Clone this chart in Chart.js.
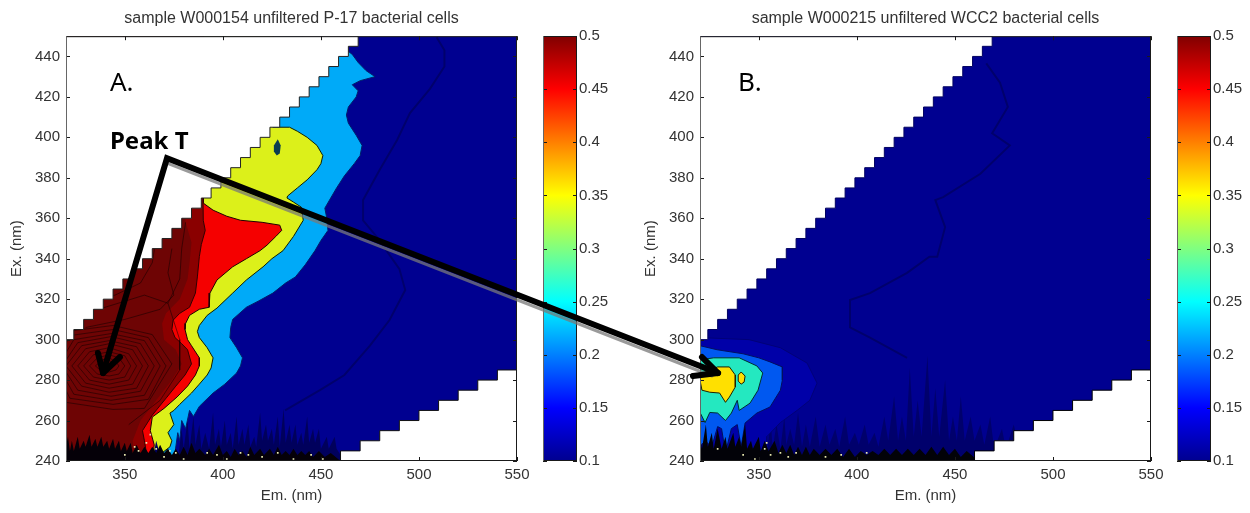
<!DOCTYPE html>
<html>
<head>
<meta charset="utf-8">
<script src="https://cdn.jsdelivr.net/npm/chart.js@4"></script>
<style>
  body { margin: 0; background: #fff; }
  #page { position: relative; width: 1250px; height: 513px; overflow: hidden; }
  canvas { position: absolute; top: 0; }
</style>
</head>
<body>
<div id="page">
  <canvas id="panelA" width="530" height="513" style="left:0"></canvas>
  <canvas id="barA" width="90" height="513" style="left:530px"></canvas>
  <canvas id="panelB" width="530" height="513" style="left:634px"></canvas>
  <canvas id="barB" width="90" height="513" style="left:1164px"></canvas>
  <canvas id="overlay" width="1250" height="513" style="left:0"></canvas>
</div>
<script>
// axis ticks
const emTicks = [350, 400, 450, 500, 550];
const exTicks = [240, 260, 280, 300, 320, 340, 360, 380, 400, 420, 440];
const barTicks = [0.1, 0.15, 0.2, 0.25, 0.3, 0.35, 0.4, 0.45, 0.5];

// colour bar range
const barRange = [0.1, 0.5];
const jetStops = ['#00008f', '#0000ff', '#0080ff', '#00ffff', '#80ff80', '#ffff00', '#ff8000', '#ff0000', '#800000'];

// edge of the measured area (em. at each ex. row), same for both samples
const stairEm = [324, 329, 334, 339, 344, 349, 354, 359, 364, 369, 374, 379, 384, 389, 394,
  399, 404, 409, 414, 419, 424, 429, 434, 439, 444, 449, 454, 459, 464, 469];
const stairEx = [300, 305, 310, 315, 320, 325, 330, 335, 340, 345, 350, 355, 360, 365, 370,
  375, 380, 385, 390, 395, 400, 405, 410, 415, 420, 425, 430, 435, 440, 445];
const lowerEm = [460, 470, 480, 490, 500, 510, 520, 530, 540];
const lowerEx = [245, 250, 255, 260, 265, 270, 275, 280, 285];

// sample A contours, [em, ex]
const fullArea = [[320, 240], [550, 240], [550, 450], [320, 450]];
const cyanA = [[320, 450], [440, 450], [462, 444], [466, 441], [469, 437], [473, 433], [477.6, 430], [470, 428], [466, 426], [469, 423],
  [468, 420], [464, 415], [463, 411], [464, 407], [468, 401], [471, 396], [470, 391], [467, 387], [462, 381], [458, 375], [455, 370],
  [452, 365], [453, 360], [453.6, 354], [450, 349], [447, 344], [442, 337], [437, 331], [432, 328], [425.5, 323], [418, 319], [412, 316],
  [405, 310], [404, 306], [403.6, 301], [407, 296], [410, 291], [409, 287], [407, 283.5], [401, 278], [395, 273.6], [388, 267],
  [385, 262], [383, 265], [381, 256], [379, 260], [378, 250], [377, 254], [375, 240], [320, 240]];
const yellowA = [[320, 450], [425.6, 450], [425.6, 405], [434, 405], [438, 403], [443, 400], [448, 396], [451, 391], [450, 387], [448, 384],
  [443, 379], [438, 375], [433, 371], [432.7, 370], [436, 368], [440, 365.5], [441, 359], [436, 351], [430.7, 344], [425, 340], [420.5, 336],
  [412, 329.5], [405, 323], [397, 315.6], [392, 312], [388, 307], [387, 304], [388, 301], [392, 296], [395, 291], [394, 286], [392, 282.5],
  [388, 278], [384, 273.6], [378, 268], [375, 265], [373, 263.7], [375, 258], [372, 254], [374, 250], [373, 247], [369, 244], [368, 240], [320, 240]];
const holeA = [[426, 396], [428, 399], [429.5, 396], [429, 392], [427.5, 391], [426, 393], [426, 396]];
const redA = [[320, 450], [390, 450], [390, 367.5], [395, 364], [402, 361], [409, 359], [420, 358], [429, 356.6], [430, 354], [427, 351],
  [422.5, 346.7], [419, 344], [412, 340], [405, 336], [397, 329.5], [393.4, 323], [393, 316], [388, 315], [383, 312], [381, 308], [380.7, 305],
  [382, 300], [384, 297], [388, 291], [388, 287], [386, 282.5], [382, 277], [376.6, 271.6], [370, 266], [364, 261.7], [363, 255],
  [365, 248], [364, 240], [320, 240]];
const maroonA = [[320, 450], [389, 450], [390, 359], [391, 354], [389, 347], [388, 341], [387, 331], [386, 323], [383, 316], [378, 313],
  [374.6, 309.6], [374, 305], [375.6, 301], [379, 298], [382, 295], [384, 288], [380.7, 282.5], [376, 277], [371.5, 271.6], [364, 262.7],
  [359, 255], [360, 250], [361, 244], [361, 240], [320, 240]];
const deepA = [[320, 450], [378, 450], [381, 358], [384, 348], [383, 338], [382, 330], [378, 320], [371, 313], [369, 308], [370, 300], [376, 295],
  [379, 288], [374, 280], [366, 270], [358, 260], [354, 250], [355, 240], [320, 240]];
const ringsA = [
  [[344, 288], [342, 290], [339, 290], [337, 288], [339, 286], [342, 286], [344, 288]],
  [[347, 287], [345.5, 289], [342, 291], [338.5, 290], [335, 287], [338.5, 284], [342, 284], [345.5, 285], [347, 287]],
  [[350, 287], [347, 291], [342, 292.5], [336, 291], [332, 287], [336, 283], [342, 282], [347, 283], [350, 287]],
  [[353, 287], [350, 292], [342, 294], [334, 292.5], [329, 287], [334, 281.5], [342, 280], [350, 281.5], [353, 287]],
  [[356, 287], [352, 293], [342, 296], [332, 294], [326, 287], [332, 280], [342, 278], [352, 280], [356, 287]],
  [[359, 287], [354, 295], [342, 298], [330, 295.5], [323, 287], [330, 278.5], [342, 276], [354, 278], [359, 287]],
  [[362, 287], [356, 296.5], [342, 299.5], [328, 297], [320, 287], [328, 277], [342, 274], [356, 276], [362, 287]],
  [[365, 287], [358, 298], [343, 301.5], [326, 298.5], [318, 287], [326, 275], [343, 272], [358, 274.5], [365, 287]],
  [[368, 287], [360, 299.5], [343, 303], [324, 300], [316, 287], [324, 273], [343, 270], [360, 272.5], [368, 287]],
  [[371, 287], [362, 301], [344, 305], [322, 302], [314, 287], [322, 271], [344, 268], [362, 270.5], [371, 287]],
  [[374, 288], [364, 302.5], [344, 307], [320, 304], [312, 287], [320, 269], [344, 265.5], [360, 266], [374, 288]],
  [[320, 312], [340, 316], [360, 322], [372, 318], [378, 300], [378, 285], [368, 270], [352, 258]],
  [[374, 345], [372, 333], [375, 322], [368, 315], [350, 310], [330, 306]],
  [[381, 358], [379, 345], [378, 330], [372, 318]],
  [[366, 350], [364, 338], [358, 328], [345, 322], [330, 320]]
];
const faintA = [[509, 449.5], [513, 443], [513, 435], [505.6, 424], [495.4, 412], [488.8, 398.6], [480, 384], [471.5, 369], [471.5, 359], [478.6, 350.7],
  [490, 335], [493, 324.5], [485, 309.7], [475, 297], [462, 282.5], [449.5, 275], [431.7, 265]];
const streaksA = [[364, 240], [366, 250], [368, 243], [377, 240], [379, 256], [380, 246], [382, 260], [383, 246], [385, 262], [386, 248], [388, 258], [389, 246], [391, 254], [393, 246],
  [395, 264], [396, 248], [398, 256], [399, 247], [401, 260], [402, 248], [404, 254], [405, 246], [407, 262], [408, 248], [410, 256], [411, 248], [413, 258], [414, 247], [416, 252],
  [417, 247], [419, 264], [420, 250], [422, 258], [423, 250], [425, 256], [426, 248], [428, 262], [429, 247], [431, 266], [432, 249], [434, 258], [435, 249], [437, 258], [438, 248],
  [440, 254], [441, 248], [443, 262], [444, 249], [446, 256], [447, 249], [449, 256], [450, 246], [453, 252], [454, 246], [457, 252], [458, 246], [462, 240]];
const blackA = [[320, 240], [320, 247], [321, 252], [322, 245], [323, 250], [324, 245], [326, 252], [327, 246], [329, 250], [330, 247], [332, 253], [333, 247], [335, 251], [336, 247], [338, 252],
  [339, 247], [341, 250], [342, 246], [344, 251], [345, 246], [347, 250], [348, 245], [350, 249], [351, 245], [353, 249], [354, 244], [356, 248], [358, 244], [360, 247], [362, 244], [364, 247],
  [366, 244], [368, 248], [370, 244], [372, 246], [374, 243], [376, 246], [378, 243], [380, 247], [382, 243], [384, 249], [386, 244], [388, 246], [391, 243], [393, 246], [395, 243],
  [398, 248], [400, 243], [402, 245], [404, 242], [406, 246], [408, 243], [410, 245], [412, 242], [414, 247], [416, 243], [419, 246], [421, 243], [424, 246], [426, 243], [428, 247], [430, 243],
  [432, 245], [434, 243], [436, 246], [438, 243], [440, 245], [442, 243], [444, 245], [446, 242], [449, 245], [452, 242], [455, 244], [460, 240]];
const specksA = [[350, 243], [355, 247], [357, 245], [361, 249], [363, 253], [366, 246], [370, 242], [373, 245], [376, 244], [380, 241], [392, 244], [397, 243], [402, 241],
  [409, 244], [413, 243], [420, 242], [428, 244], [436, 241], [445, 243], [451, 241]];

// sample B contours
const navyB = [[320, 240], [320, 301], [345, 300], [361, 296], [374.6, 288.4], [379.7, 278.5], [376, 270], [369.5, 265], [361, 259], [354, 252], [354, 240]];
const blueB = [[320, 297], [328.7, 295], [342, 293], [350, 291], [355.7, 289], [362, 286.5], [362, 280], [361, 275], [355.7, 266.7], [349, 263.7], [343, 258.8],
  [341, 247], [339, 258], [336, 256], [333, 244], [331, 256], [329, 257], [326, 247], [322.5, 250], [320, 247]];
const tealB = [[320, 290], [327, 291], [340, 291], [349, 287], [352, 283.5], [349.6, 275], [345.5, 268.6], [340, 265], [339, 270], [336, 263.7], [333, 260],
  [329, 263.7], [325, 264], [322.6, 259], [320, 264]];
const yellowB = [[320, 283], [325, 285], [329, 286.5], [335, 286.5], [338, 282.5], [338, 276.6], [335, 271.6], [333, 269], [330, 273.6], [325, 274], [321, 275], [320, 280]];
const islandB = [[341, 284], [343, 282], [342.5, 279], [341, 278], [339.5, 279.5], [339.5, 282.5], [341, 284]];
const faintB = [[466, 436.6], [473, 427], [477, 415], [469, 402], [478, 396], [463, 382], [444, 370.4], [440, 369], [445, 355.6], [441, 341], [437, 341],
  [425.6, 333], [406.7, 323], [396.5, 319.6], [396.5, 306], [406.7, 301], [425.6, 291]];
const streaksB = [[354, 240], [356, 262], [357, 246], [359, 258], [361, 246], [363, 262], [364, 248], [366, 256], [368, 248], [370, 264], [372, 247], [374, 258], [376, 247], [379, 262], [381, 247],
  [384, 258], [386, 248], [389, 256], [391, 247], [394, 262], [396, 248], [399, 254], [401, 248], [404, 258], [406, 248], [409, 254], [411, 247], [414, 262], [416, 250], [419, 272], [421, 250],
  [423, 262], [425, 250], [427, 286], [429, 252], [431, 270], [433, 252], [436, 292], [438, 252], [440, 276], [442, 252], [445, 280], [447, 250], [449, 262], [451, 250], [453, 272], [455, 250],
  [458, 262], [460, 250], [463, 258], [465, 248], [468, 262], [470, 246], [474, 256], [476, 246], [480, 258], [483, 246], [490, 240]];
const blackB = [[320, 240], [320, 252], [321, 246], [323, 258], [324, 247], [326, 254], [327, 246], [329, 256], [331, 246], [333, 252], [334, 246], [337, 254], [338, 247], [340, 252], [341, 247],
  [343, 258], [344, 246], [346, 250], [347, 246], [350, 252], [351, 245], [353, 250], [355, 245], [358, 250], [360, 244], [362, 248], [364, 244], [366, 248], [368, 243], [370, 247], [372, 243],
  [374, 247], [376, 243], [378, 246], [381, 243], [384, 246], [387, 243], [390, 246], [393, 242], [396, 246], [399, 242], [402, 245], [405, 243], [408, 245], [411, 243], [414, 246], [417, 243],
  [420, 246], [423, 243], [426, 246], [429, 243], [432, 246], [435, 243], [438, 247], [441, 243], [444, 247], [447, 243], [450, 246], [453, 242], [456, 245], [462, 240]];
const specksB = [[329, 246], [342, 243], [348, 241], [353, 246], [354, 249], [356, 243], [361, 244], [365, 242], [369, 244], [384, 242], [392, 243], [405, 244]];

const palette = { navy: '#000090', cyan: '#00aaf8', yellow: '#dcf01a', red: '#f50000', maroon: '#8a0000', deep: '#6e0404' };

const toPoints = arr => arr.map(p => ({ x: p[0], y: p[1] }));

function polygon(arr, fill, line) {
  return { data: toPoints(arr), showLine: true, pointRadius: 0, borderWidth: line ? 1 : 0, borderColor: line || 'rgba(0,0,0,0)',
    backgroundColor: fill, fill: 'shape', tension: 0 };
}
function contour(arr, color, width) {
  return { data: toPoints(arr), showLine: true, pointRadius: 0, borderWidth: width, borderColor: color, fill: false, tension: 0 };
}
function specks(arr, color) {
  return { data: toPoints(arr), showLine: false, pointStyle: 'rect', pointRadius: 1.2, borderWidth: 0, backgroundColor: color };
}

const upperMask = [[320, 300], ...stairEm.flatMap((em, i) => [[em, stairEx[i]], [em, stairEx[i] + 5]]), [320, 450]];
const lowerMask = [[460, 240], ...lowerEm.flatMap((em, i) => [[em, lowerEx[i]], [em + 10, lowerEx[i]]]), [550, 240]];

// draws the box and the inward MATLAB style ticks
const boxTicks = {
  id: 'boxTicks',
  afterDatasetsDraw(chart) {
    const { ctx, chartArea: a, scales } = chart;
    ctx.save();
    ctx.lineWidth = 1;
    ctx.strokeStyle = '#1a1a1a';
    ctx.beginPath();
    ctx.moveTo(a.left, a.top + 0.5); ctx.lineTo(a.right, a.top + 0.5);
    ctx.moveTo(a.right - 0.5, a.top); ctx.lineTo(a.right - 0.5, a.bottom);
    ctx.moveTo(a.left, a.bottom - 0.5); ctx.lineTo(a.right, a.bottom - 0.5);
    scales.y.ticks.forEach(t => {
      const py = Math.round(scales.y.getPixelForValue(t.value)) + 0.5;
      ctx.moveTo(a.left, py); ctx.lineTo(a.left + 4, py);
      ctx.moveTo(a.right, py); ctx.lineTo(a.right - 4, py);
    });
    if (scales.x.type === 'linear') {
      scales.x.ticks.forEach(t => {
        const px = Math.round(scales.x.getPixelForValue(t.value)) + 0.5;
        ctx.moveTo(px, a.top); ctx.lineTo(px, a.top + 4);
        ctx.moveTo(px, a.bottom); ctx.lineTo(px, a.bottom - 4);
      });
    }
    ctx.stroke();
    ctx.strokeStyle = '#666';
    ctx.beginPath();
    ctx.moveTo(a.left + 0.5, a.top); ctx.lineTo(a.left + 0.5, a.bottom);
    ctx.stroke();
    ctx.restore();
  }
};

const labelFont = { family: '"Liberation Sans"', size: 15 };

function makePanel(id, title, layers) {
  const datasets = layers.map((d, i) => Object.assign(d, { order: -i }));
  return new Chart(document.getElementById(id), {
    type: 'scatter',
    data: { datasets },
    plugins: [boxTicks],
    options: {
      responsive: false,
      animation: false,
      layout: { padding: { right: 13 }, autoPadding: false },
      plugins: {
        legend: { display: false },
        tooltip: { enabled: false },
        title: { display: true, text: title, color: '#333', fullSize: false, font: { family: '"Liberation Sans"', size: 16, weight: 'normal' },
          padding: { top: 9, bottom: 8 } }
      },
      scales: {
        x: {
          type: 'linear', min: 320, max: 550,
          afterBuildTicks: s => { s.ticks = emTicks.map(value => ({ value })); },
          afterFit: s => { s.height = 52; s.paddingLeft = 0; s.paddingRight = 0; },
          grid: { display: false, tickLength: 0 },
          border: { display: false },
          ticks: { color: '#333', font: labelFont, maxRotation: 0, padding: 5, autoSkip: false },
          title: { display: true, text: 'Em. (nm)', color: '#333', font: labelFont, padding: { top: 0, bottom: 8 } }
        },
        y: {
          min: 240, max: 450,
          afterBuildTicks: s => { s.ticks = exTicks.map(value => ({ value })); },
          afterFit: s => { s.width = 66; s.paddingTop = 0; s.paddingBottom = 0; },
          grid: { display: false, tickLength: 0 },
          border: { display: false },
          ticks: { color: '#333', font: labelFont, padding: 6, autoSkip: false },
          title: { display: true, text: 'Ex. (nm)', color: '#333', font: labelFont, padding: { top: 8, bottom: 0 } }
        }
      }
    }
  });
}

function makeBar(id) {
  return new Chart(document.getElementById(id), {
    type: 'bar',
    data: {
      labels: ['level'],
      datasets: [{
        data: [barRange],
        barPercentage: 1,
        categoryPercentage: 1,
        backgroundColor(c) {
          const a = c.chart.chartArea;
          if (!a) return '#000090';
          const g = c.chart.ctx.createLinearGradient(0, a.bottom, 0, a.top);
          jetStops.forEach((col, i) => g.addColorStop(i / (jetStops.length - 1), col));
          return g;
        }
      }]
    },
    plugins: [boxTicks],
    options: {
      responsive: false,
      animation: false,
      layout: { padding: { left: 13, top: 36, bottom: 52 }, autoPadding: false },
      plugins: { legend: { display: false }, tooltip: { enabled: false }, title: { display: false } },
      scales: {
        x: { display: false },
        y: {
          position: 'right', min: 0.1, max: 0.5,
          afterBuildTicks: s => { s.ticks = barTicks.map(value => ({ value })); },
          afterFit: s => { s.width = 43; s.paddingTop = 0; s.paddingBottom = 0; },
          grid: { display: false, tickLength: 0 },
          border: { display: false },
          ticks: { color: '#333', font: labelFont, padding: 2, autoSkip: false, callback: v => String(v) }
        }
      }
    }
  });
}

const chartA = makePanel('panelA', 'sample W000154 unfiltered P-17 bacterial cells', [
  polygon(fullArea, palette.navy),
  contour(faintA, '#00006c', 2),
  polygon(cyanA, palette.cyan, '#00206a'),
  polygon(yellowA, palette.yellow, '#102000'),
  polygon(holeA, '#0a3c50'),
  polygon(redA, palette.red, '#200000'),
  polygon(maroonA, palette.maroon, '#300000'),
  polygon(deepA, palette.deep),
  ...ringsA.map(r => contour(r, 'rgba(20,0,0,0.55)', 1)),
  polygon(streaksA, '#00005c'),
  polygon(blackA, '#050008'),
  specks(specksA, '#e8e8b0'),
  polygon(upperMask, '#fff', '#222'),
  polygon(lowerMask, '#fff', '#111')
]);
const chartB = makePanel('panelB', 'sample W000215 unfiltered WCC2 bacterial cells', [
  polygon(fullArea, palette.navy),
  contour(faintB, '#00006c', 2),
  polygon(streaksB, '#00006c'),
  polygon(navyB, '#0000a8', '#000078'),
  polygon(blueB, '#0058f0', '#001060'),
  polygon(tealB, '#24e8c0', '#003030'),
  polygon(yellowB, '#ffe000', '#202000'),
  polygon(islandB, '#ffe000', '#202000'),
  polygon(blackB, '#020208'),
  specks(specksB, '#e8e8b0'),
  polygon(upperMask, '#fff', '#000060'),
  polygon(lowerMask, '#fff', '#000')
]);
makeBar('barA');
makeBar('barB');

// annotations, in each panel's own em./ex. units
const apex = [371.5, 389.7];
const tipA = [338.9, 283.5];
const barbsA = [[347.5, 291.4], [336.3, 293.4]];
const tipB = [329.2, 283.5];
const barbsB = [[321, 291.4], [316.4, 282]];
const notes = [
  { chart: chartA, text: 'A.', at: [342.4, 426.8], font: '26px "Noto Sans"' },
  { chart: chartA, text: 'Peak T', at: [342.4, 397.6], font: 'bold 24px "Noto Sans"' },
  { chart: chartB, text: 'B.', at: [339.4, 426.8], font: '26px "Noto Sans"' }
];

function pagePoint(chart, p) {
  const left = chart.canvas.offsetLeft;
  return [left + chart.scales.x.getPixelForValue(p[0]), chart.scales.y.getPixelForValue(p[1])];
}

new Chart(document.getElementById('overlay'), {
  type: 'scatter',
  data: { datasets: [] },
  plugins: [{
    id: 'arrows',
    afterDraw(chart) {
      const ctx = chart.ctx;
      const start = pagePoint(chartA, apex);
      const endA = pagePoint(chartA, tipA);
      const endB = pagePoint(chartB, tipB);
      ctx.save();
      ctx.lineCap = 'round';
      ctx.strokeStyle = 'rgba(120,120,120,0.75)';
      ctx.lineWidth = 3;
      ctx.beginPath();
      ctx.moveTo(start[0], start[1] + 5);
      ctx.lineTo(endB[0] - 6, endB[1] + 3);
      ctx.stroke();
      ctx.strokeStyle = '#000';
      ctx.lineWidth = 6;
      ctx.lineJoin = 'miter';
      ctx.beginPath();
      ctx.moveTo(endA[0], endA[1]);
      ctx.lineTo(start[0], start[1]);
      ctx.lineTo(endB[0], endB[1]);
      ctx.stroke();
      [[chartA, endA, barbsA], [chartB, endB, barbsB]].forEach(([c, end, barbs]) => {
        ctx.beginPath();
        barbs.forEach(b => {
          const p = pagePoint(c, b);
          ctx.moveTo(p[0], p[1]);
          ctx.lineTo(end[0], end[1]);
        });
        ctx.stroke();
      });
      ctx.fillStyle = '#000';
      ctx.textBaseline = 'middle';
      notes.forEach(n => {
        const p = pagePoint(n.chart, n.at);
        ctx.font = n.font;
        ctx.fillText(n.text, p[0], p[1]);
      });
      ctx.restore();
    }
  }],
  options: {
    responsive: false,
    animation: false,
    plugins: { legend: { display: false }, tooltip: { enabled: false } },
    scales: { x: { display: false }, y: { display: false } }
  }
});
</script>
</body>
</html>
